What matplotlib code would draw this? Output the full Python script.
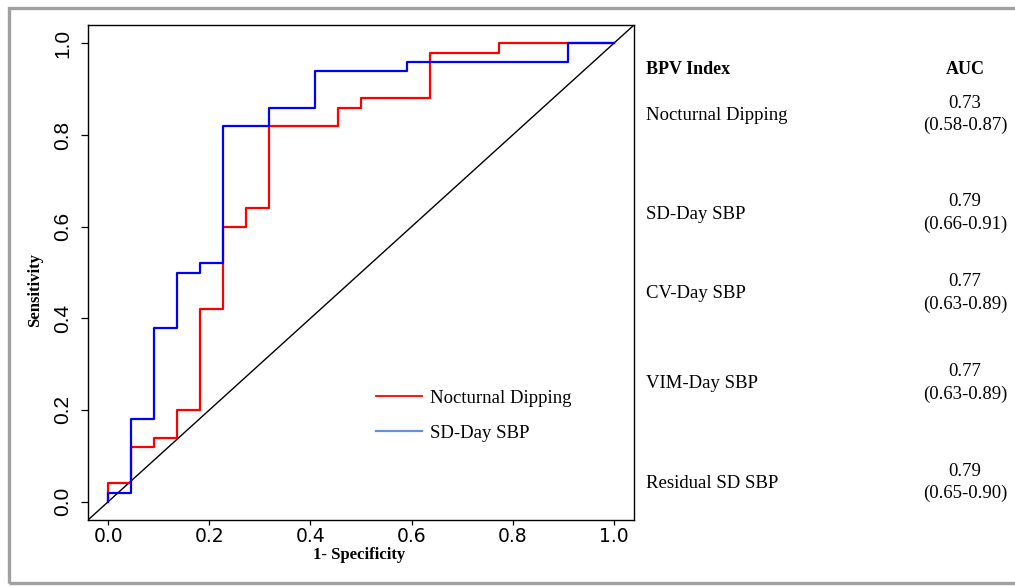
import matplotlib
matplotlib.use("Agg")
import matplotlib.pyplot as plt
from matplotlib.patches import Rectangle

# ROC points (1 - specificity, sensitivity)
fpr_dip = [0, 0, 0.045, 0.045, 0.091, 0.091, 0.136, 0.136, 0.182, 0.182, 0.227, 0.227,
           0.273, 0.273, 0.318, 0.318, 0.455, 0.455, 0.5, 0.5, 0.636, 0.636, 0.773, 0.773, 1.0]
tpr_dip = [0, 0.04, 0.04, 0.12, 0.12, 0.14, 0.14, 0.20, 0.20, 0.42, 0.42, 0.60,
           0.60, 0.64, 0.64, 0.82, 0.82, 0.86, 0.86, 0.88, 0.88, 0.98, 0.98, 1.0, 1.0]

fpr_sd = [0, 0, 0.045, 0.045, 0.091, 0.091, 0.136, 0.136, 0.182, 0.182, 0.227, 0.227,
          0.318, 0.318, 0.409, 0.409, 0.591, 0.591, 0.909, 0.909, 1.0]
tpr_sd = [0, 0.02, 0.02, 0.18, 0.18, 0.38, 0.38, 0.50, 0.50, 0.52, 0.52, 0.82,
          0.82, 0.86, 0.86, 0.94, 0.94, 0.96, 0.96, 1.0, 1.0]

ticks = [0.0, 0.2, 0.4, 0.6, 0.8, 1.0]
tick_labels = ["0.0", "0.2", "0.4", "0.6", "0.8", "1.0"]

bpv_index = ["Nocturnal Dipping", "SD-Day SBP", "CV-Day SBP", "VIM-Day SBP", "Residual SD SBP"]
auc = ["0.73", "0.79", "0.77", "0.77", "0.79"]
auc_ci = ["(0.58-0.87)", "(0.66-0.91)", "(0.63-0.89)", "(0.63-0.89)", "(0.65-0.90)"]

W, H = 1015, 587
fig = plt.figure(figsize=(W / 100, H / 100), dpi=100)
ax = fig.add_axes([88 / W, 1 - 520 / H, (634 - 88) / W, (520 - 25) / H])

serif = "Liberation Serif"

ax.plot([-0.04, 1.04], [-0.04, 1.04], color="black", lw=1.0)
ax.plot(fpr_dip, tpr_dip, color="#ff0000", lw=1.6)
ax.plot(fpr_sd, tpr_sd, color="#0000ff", lw=1.6)

ax.set_xlim(-0.04, 1.04)
ax.set_ylim(-0.04, 1.04)
ax.set_xticks(ticks)
ax.set_xticklabels(tick_labels, family="DejaVu Sans", fontsize=13.5)
ax.set_yticks(ticks)
ax.set_yticklabels(tick_labels, family="Liberation Sans", fontsize=15, rotation=90, va="center")
ax.tick_params(axis="x", length=3.5, width=0.9, pad=1.5)
ax.tick_params(axis="y", length=5.4, width=0.9, pad=6)
for s in ax.spines.values():
    s.set_linewidth(1.0)

ax.set_xlabel("1- Specificity", family=serif, fontweight="bold", fontsize=12, va="center")
ax.set_ylabel("Sensitivity", family=serif, fontweight="bold", fontsize=12, va="center")
ax.xaxis.set_label_coords((359 - 88) / 546, (520 - 555) / 495)
ax.yaxis.set_label_coords((35 - 88) / 546, (520 - 290) / 495)

# legend
ax.plot([], [], color="#ff0000", lw=1.3, label="Nocturnal Dipping")
ax.plot([], [], color="#6a8fd6", lw=1.6, label="SD-Day SBP")
h, l = ax.get_legend_handles_labels()
ax.legend(h[-2:], l[-2:], loc="center left", bbox_to_anchor=(0.497, 0.211), frameon=False,
          prop={"family": serif, "size": 13.5}, handlelength=2.45, labelspacing=0.95,
          handletextpad=0.4)

# AUC table
fig.text(646 / W, 1 - 70 / H, "BPV Index", family=serif, fontweight="bold", fontsize=13,
         va="center", ha="left")
fig.text(965 / W, 1 - 70 / H, "AUC", family=serif, fontweight="bold", fontsize=13,
         va="center", ha="center")
row_y = [115, 214, 294, 384, 483]
for name, a, ci, y in zip(bpv_index, auc, auc_ci, row_y):
    fig.text(646 / W, 1 - y / H, name, family=serif, fontsize=13.5, va="center", ha="left")
    fig.text(965 / W, 1 - (y - 12) / H, a, family=serif, fontsize=13.5, va="center", ha="center")
    fig.text(965 / W, 1 - (y + 10) / H, ci, family=serif, fontsize=13.5, va="center", ha="center")

# grey frame around the panel (open on the right)
fig.patches.append(Rectangle((8.5 / W, 1 - 583 / H), 1.05, (583 - 7.5) / H,
                             transform=fig.transFigure, fill=False,
                             edgecolor="#a0a0a0", lw=2.4, clip_on=False))

fig.savefig("out.png", dpi=100)
